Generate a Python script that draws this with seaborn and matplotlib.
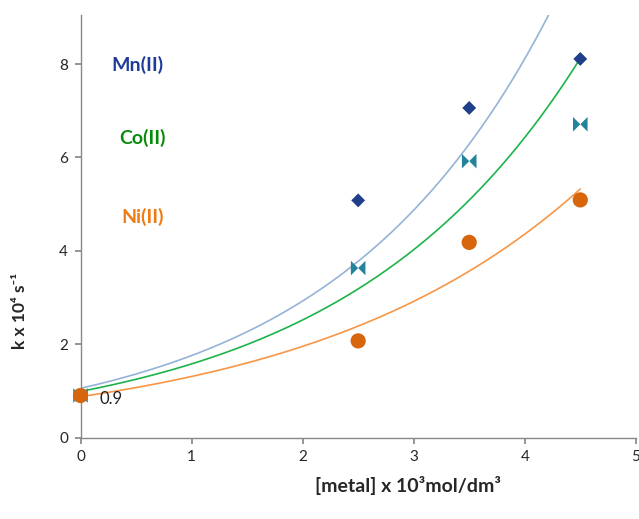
import numpy as np
import pandas as pd
import matplotlib
matplotlib.use("Agg")
import matplotlib.pyplot as plt
from matplotlib.path import Path
import seaborn as sns

# data
conc = [0.0, 2.5, 3.5, 4.5]
mn_k = [0.9, 5.08, 7.06, 8.11]
co_k = [0.9, 3.63, 5.92, 6.71]
ni_k = [0.9, 2.07, 4.18, 5.09]
x_ticks = [0, 1, 2, 3, 4, 5]
y_ticks = [0, 2, 4, 6, 8]

sns.set_theme(style="white")
plt.rcParams['font.family'] = ['Lato', 'DejaVu Sans']

fig = plt.figure(figsize=(6.39, 5.19), dpi=100)
ax = fig.add_axes([0.126, 0.157, 0.869, 0.814])

def expfit(x, y):
    b, lna = np.polyfit(np.asarray(x), np.log(np.asarray(y)), 1)
    xs = np.linspace(0, max(x), 200)
    return xs, np.exp(lna) * np.exp(b * xs)

line_cols = {"Mn": "#95B3D7", "Co": "#1DB34A", "Ni": "#F79646"}
for name, ys in [("Mn", mn_k), ("Co", co_k), ("Ni", ni_k)]:
    xs, fy = expfit(conc, ys)
    sns.lineplot(x=xs, y=fy, ax=ax, color=line_cols[name], linewidth=1.2)

bowtie = Path([(-1, -1), (0, 0), (-1, 1), (-1, -1), (1, -1), (0, 0), (1, 1), (1, -1)],
              [Path.MOVETO, Path.LINETO, Path.LINETO, Path.CLOSEPOLY,
               Path.MOVETO, Path.LINETO, Path.LINETO, Path.CLOSEPOLY])

sns.scatterplot(x=conc, y=mn_k, ax=ax, marker="D", color="#1F3F8A", s=50, edgecolor="none",
                zorder=5, clip_on=False)
sns.scatterplot(x=conc, y=co_k, ax=ax, marker=bowtie, color="#23839A", s=110, edgecolor="none",
                zorder=6, clip_on=False)
sns.scatterplot(x=conc, y=ni_k, ax=ax, marker="o", color="#D6650B", s=120, edgecolor="none",
                zorder=7, clip_on=False)

ax.set_xlim(0, 5)
ax.set_ylim(0, 9.05)
ax.set_xticks(x_ticks)
ax.set_yticks(y_ticks)
ax.tick_params(axis="both", labelsize=11, direction="out", length=4, color="#888888",
               bottom=True, left=True, pad=5)
for s in ["top", "right"]:
    ax.spines[s].set_visible(False)
for s in ["left", "bottom"]:
    ax.spines[s].set_color("#888888")
    ax.spines[s].set_linewidth(1)

ax.set_xlabel("[metal] x 10\u00b3mol/dm\u00b3", fontsize=14, fontweight="bold")
ax.set_ylabel("k x 10\u2074 s\u207b\u00b9", fontsize=12.5, fontweight="bold")
ax.xaxis.set_label_coords(0.59, -0.092)
ax.yaxis.set_label_coords(-0.094, 0.30)

ax.text(0.17, 0.82, "0.9", fontsize=12, va="center", ha="left", color="#222222")
ax.text(0.28, 7.98, "Mn(II)", fontsize=14, fontweight="bold", color="#1F3C9A", va="center")
ax.text(0.35, 6.42, "Co(II)", fontsize=14, fontweight="bold", color="#0A8A0A", va="center")
ax.text(0.37, 4.72, "Ni(II)", fontsize=14, fontweight="bold", color="#F07A10", va="center")

fig.savefig("out.png", dpi=100)
